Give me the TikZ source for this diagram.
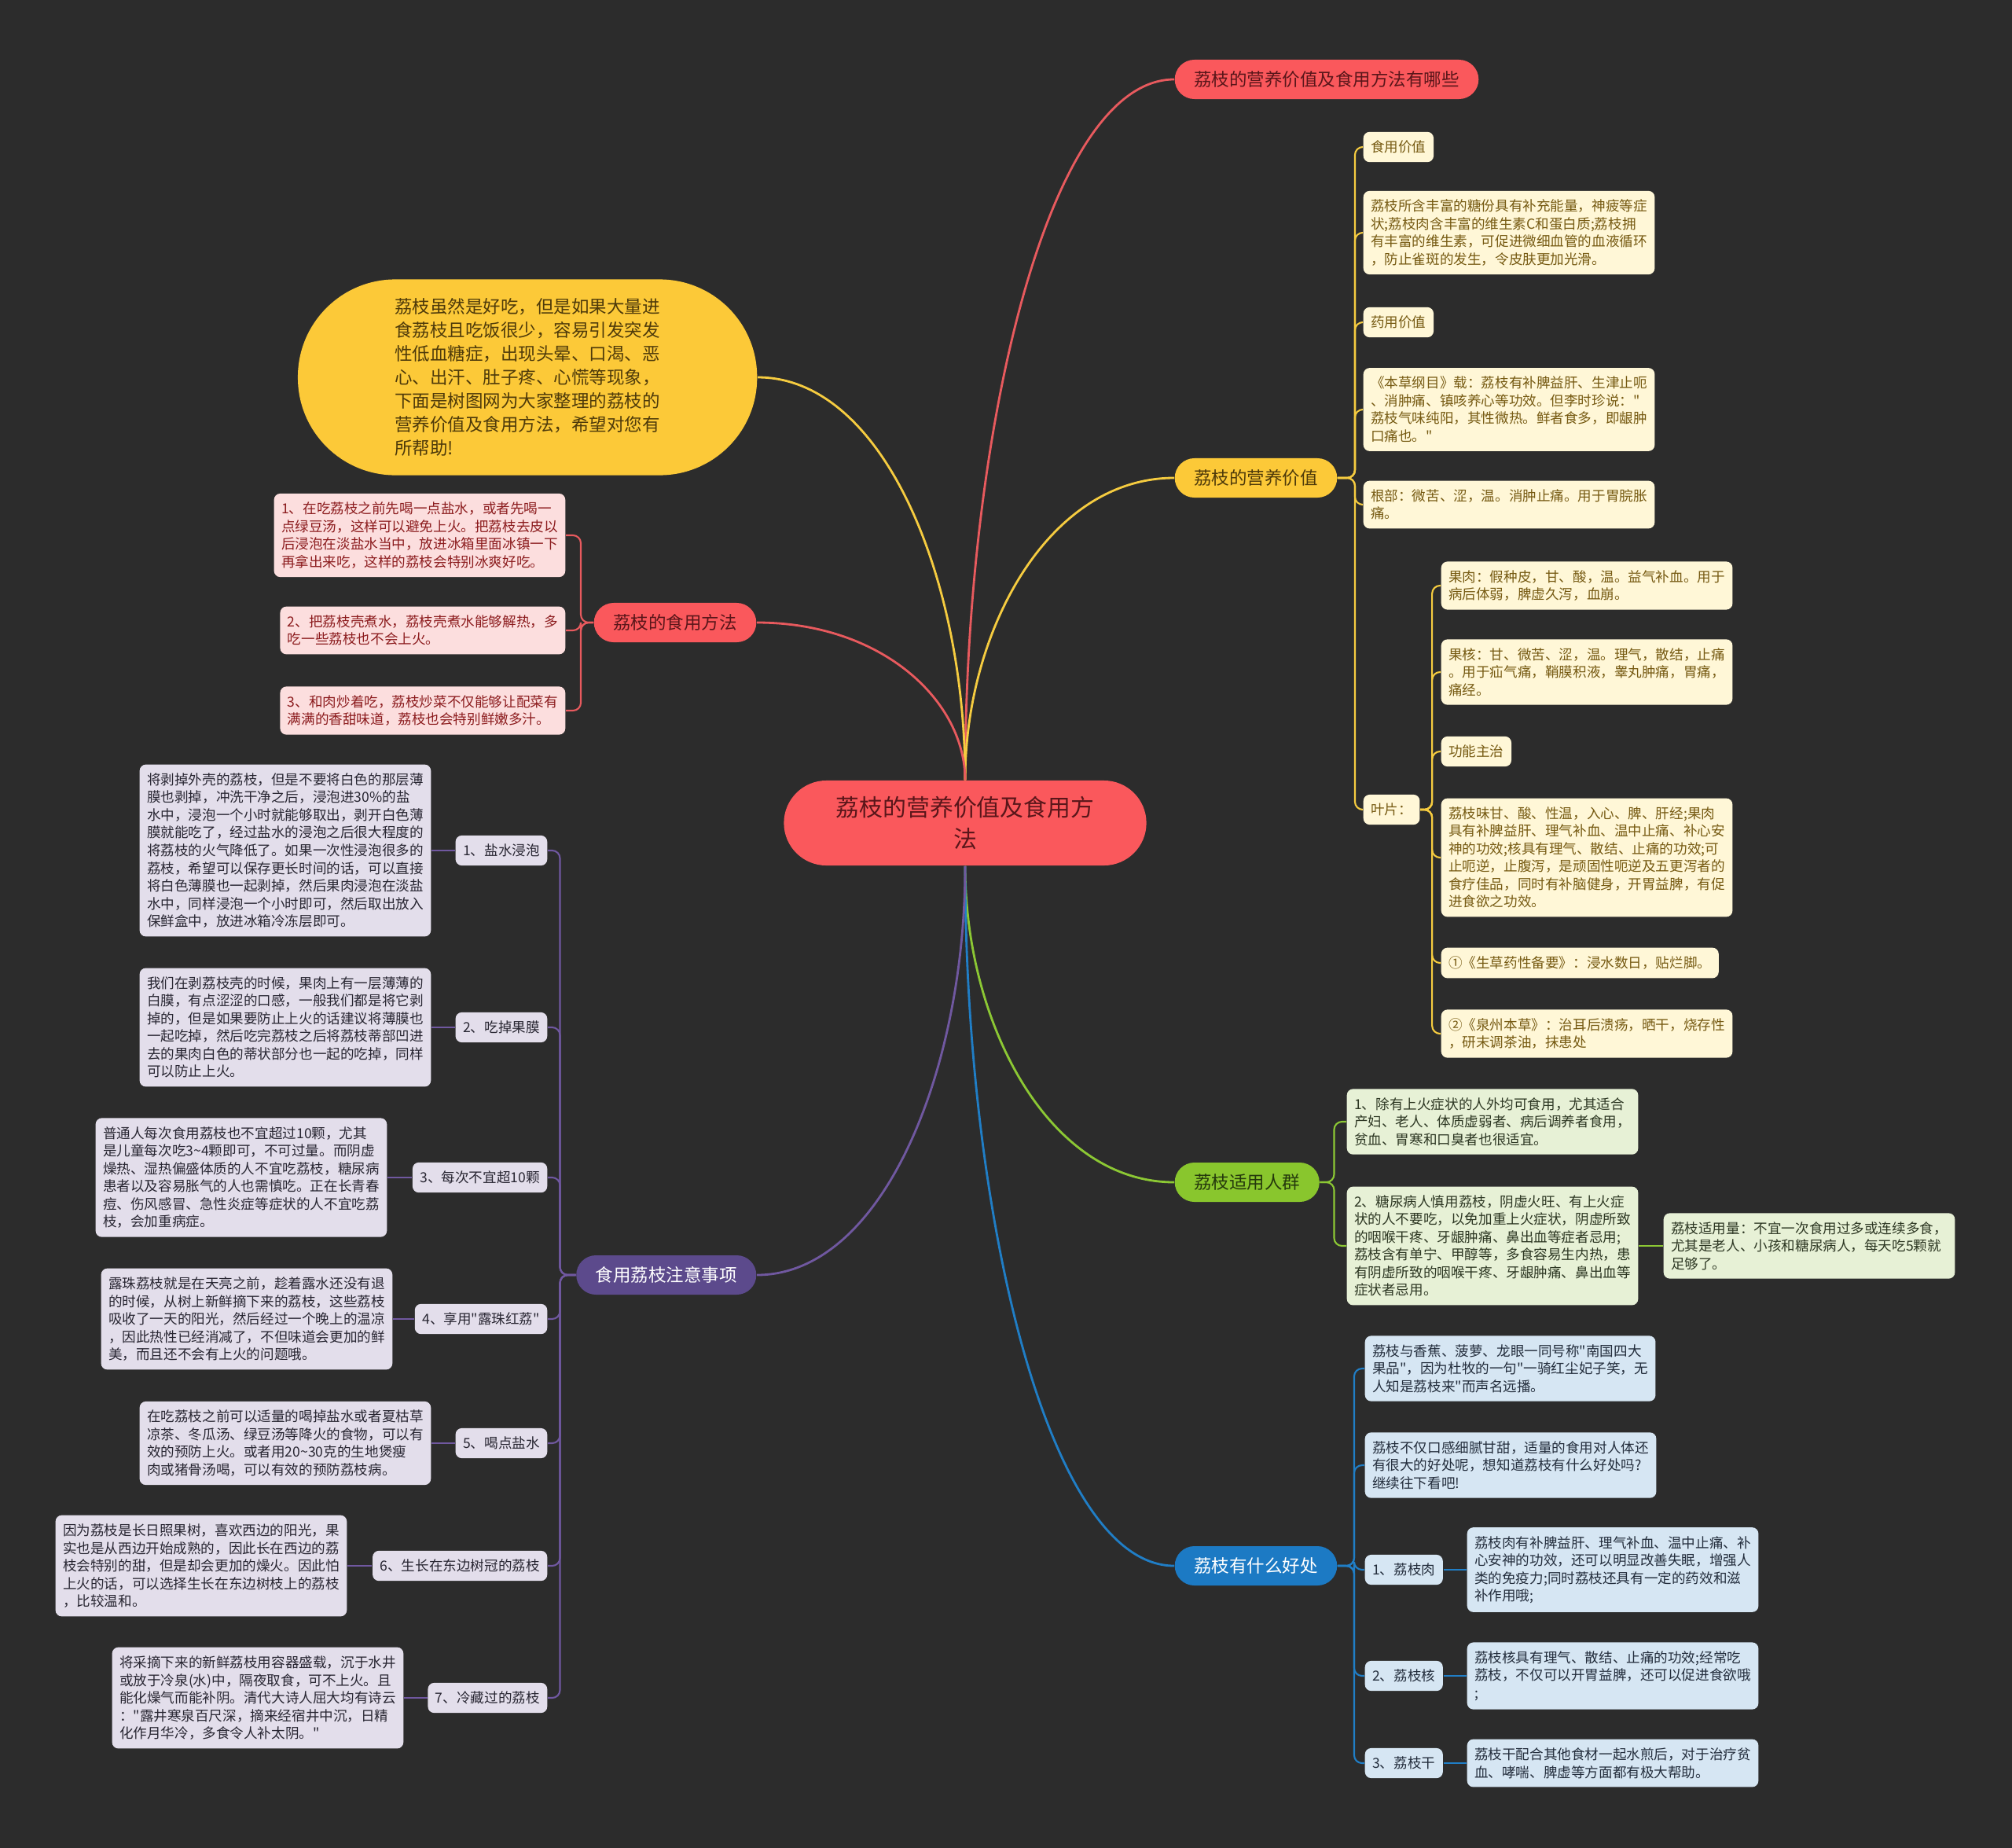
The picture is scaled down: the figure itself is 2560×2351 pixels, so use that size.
\documentclass[tikz,border=0pt]{standalone}
\usepackage{fontspec}
\setmainfont{Noto Sans CJK SC}

\definecolor{bgDark}{RGB}{44,44,44}
\definecolor{cRed}{RGB}{250,88,92}
\definecolor{cYel}{RGB}{252,201,56}
\definecolor{cGrn}{RGB}{137,198,45}
\definecolor{cBlu}{RGB}{28,122,196}
\definecolor{cPur}{RGB}{92,74,140}
\definecolor{lnRed}{RGB}{232,90,94}
\definecolor{lnYel}{RGB}{246,204,64}
\definecolor{lnGrn}{RGB}{140,200,52}
\definecolor{lnBlu}{RGB}{32,126,198}
\definecolor{lnPur}{RGB}{112,88,160}
\definecolor{fCream}{RGB}{255,247,215}
\definecolor{tCream}{RGB}{118,90,18}
\definecolor{fPink}{RGB}{252,222,222}
\definecolor{tPink}{RGB}{140,28,30}
\definecolor{fLime}{RGB}{231,241,214}
\definecolor{tLime}{RGB}{45,55,35}
\definecolor{fSky}{RGB}{214,230,243}
\definecolor{tSky}{RGB}{35,45,60}
\definecolor{fLilac}{RGB}{227,222,235}
\definecolor{tLilac}{RGB}{40,38,50}
\definecolor{tDarkRed}{RGB}{90,22,26}
\definecolor{tDarkYel}{RGB}{78,58,10}
\definecolor{tDarkGrn}{RGB}{36,56,12}

\newcommand{\dq}{\textquotedbl{}}

\begin{document}
\begin{tikzpicture}[x=0.01cm, y=-0.01cm,
    nodeRoot/.style={rectangle, rounded corners=0.54cm, fill=cRed, text=tDarkRed, font=\fontsize{8.5}{11.2}\selectfont, align=center, minimum width=4.61cm, minimum height=1.08cm, inner sep=0pt},
    nodeMain/.style={rectangle, rounded corners=0.25cm, minimum height=0.5cm, inner xsep=0.245cm, inner ysep=0pt, font=\fontsize{6.4}{8}\selectfont},
    nodeRed/.style={nodeMain, fill=cRed, text=tDarkRed},
    nodeYel/.style={nodeMain, fill=cYel, text=tDarkYel},
    nodeGrn/.style={nodeMain, fill=cGrn, text=tDarkGrn},
    nodeBlu/.style={nodeMain, fill=cBlu, text=white},
    nodePur/.style={nodeMain, fill=cPur, text=white},
    nodeIntro/.style={rectangle, rounded corners=1.24cm, fill=cYel, text=tDarkYel, font=\fontsize{6.4}{8.5}\selectfont, align=left, minimum width=5.84cm, minimum height=2.49cm, inner sep=0pt},
    leaf/.style={rectangle, rounded corners=0.08cm, font=\fontsize{5}{6.4}\selectfont, align=left, inner xsep=0.095cm, inner ysep=0.11cm},
    leafYel/.style={leaf, fill=fCream, text=tCream},
    leafRed/.style={leaf, fill=fPink, text=tPink},
    leafGrn/.style={leaf, fill=fLime, text=tLime},
    leafBlu/.style={leaf, fill=fSky, text=tSky},
    leafPur/.style={leaf, fill=fLilac, text=tLilac},
    lineMain/.style={line width=0.8pt},
    lineSub/.style={line width=0.6pt, rounded corners=0.1cm}]

    \useasboundingbox (0,0) rectangle (2560,2351);
    \fill[bgDark] (0,0) rectangle (2560,2351);

    % Root and main topics
    \node[nodeRoot] (root) at (1228,1047) {荔枝的营养价值及食用方\\法};
    \node[nodeRed, anchor=west] (nA) at (1494,101) {荔枝的营养价值及食用方法有哪些};
    \node[nodeYel, anchor=west] (nB) at (1494,608) {荔枝的营养价值};
    \node[nodeGrn, anchor=west] (nC) at (1494,1504) {荔枝适用人群};
    \node[nodeBlu, anchor=west] (nD) at (1494,1992) {荔枝有什么好处};
    \node[nodeRed, anchor=east] (nE) at (963,792) {荔枝的食用方法};
    \node[nodePur, anchor=east] (nF) at (963,1622) {食用荔枝注意事项};
    \node[nodeIntro, anchor=east] (intro) at (964,480) {荔枝虽然是好吃，但是如果大量进\\食荔枝且吃饭很少，容易引发突发\\性低血糖症，出现头晕、口渴、恶\\心、出汗、肚子疼、心慌等现象，\\下面是树图网为大家整理的荔枝的\\营养价值及食用方法，希望对您有\\所帮助!};

    % Nutrition value (yellow)
    \node[leafYel, anchor=west] (y1) at (1734,187) {食用价值};
    \node[leafYel, anchor=west] (y2) at (1734,296) {荔枝所含丰富的糖份具有补充能量，神疲等症\\状;荔枝肉含丰富的维生素C和蛋白质;荔枝拥\\有丰富的维生素，可促进微细血管的血液循环\\，防止雀斑的发生，令皮肤更加光滑。};
    \node[leafYel, anchor=west] (y3) at (1734,410) {药用价值};
    \node[leafYel, anchor=west] (y4) at (1734,521) {《本草纲目》载：荔枝有补脾益肝、生津止呃\\、消肿痛、镇咳养心等功效。但李时珍说：\dq\\荔枝气味纯阳，其性微热。鲜者食多，即龈肿\\口痛也。\dq};
    \node[leafYel, anchor=west] (y5) at (1734,642) {根部：微苦、涩，温。消肿止痛。用于胃脘胀\\痛。};
    \node[leafYel, anchor=west] (y6) at (1734,1030) {叶片：};

    % Leaf items
    \node[leafYel, anchor=west] (lf1) at (1833,745) {果肉：假种皮，甘、酸，温。益气补血。用于\\病后体弱，脾虚久泻，血崩。};
    \node[leafYel, anchor=west] (lf2) at (1833,855) {果核：甘、微苦、涩，温。理气，散结，止痛\\。用于疝气痛，鞘膜积液，睾丸肿痛，胃痛，\\痛经。};
    \node[leafYel, anchor=west] (lf3) at (1833,956) {功能主治};
    \node[leafYel, anchor=west] (lf4) at (1833,1091) {荔枝味甘、酸、性温，入心、脾、肝经;果肉\\具有补脾益肝、理气补血、温中止痛、补心安\\神的功效;核具有理气、散结、止痛的功效;可\\止呃逆，止腹泻，是顽固性呃逆及五更泻者的\\食疗佳品，同时有补脑健身，开胃益脾，有促\\进食欲之功效。};
    \node[leafYel, anchor=west] (lf5) at (1833,1225) {①《生草药性备要》：浸水数日，贴烂脚。};
    \node[leafYel, anchor=west] (lf6) at (1833,1315) {②《泉州本草》：治耳后溃疡，晒干，烧存性\\，研末调茶油，抹患处};

    % Suitable people (green)
    \node[leafGrn, anchor=west] (g1) at (1713,1427) {1、除有上火症状的人外均可食用，尤其适合\\产妇、老人、体质虚弱者、病后调养者食用，\\贫血、胃寒和口臭者也很适宜。};
    \node[leafGrn, anchor=west] (g2) at (1713,1585) {2、糖尿病人慎用荔枝，阴虚火旺、有上火症\\状的人不要吃，以免加重上火症状，阴虚所致\\的咽喉干疼、牙龈肿痛、鼻出血等症者忌用;\\荔枝含有单宁、甲醇等，多食容易生内热，患\\有阴虚所致的咽喉干疼、牙龈肿痛、鼻出血等\\症状者忌用。};
    \node[leafGrn, anchor=west] (g3) at (2116,1585) {荔枝适用量：不宜一次食用过多或连续多食，\\尤其是老人、小孩和糖尿病人，每天吃5颗就\\足够了。};

    % Benefits (blue)
    \node[leafBlu, anchor=west] (b1) at (1736,1741) {荔枝与香蕉、菠萝、龙眼一同号称\dq 南国四大\\果品\dq，因为杜牧的一句\dq 一骑红尘妃子笑，无\\人知是荔枝来\dq 而声名远播。};
    \node[leafBlu, anchor=west] (b2) at (1736,1864) {荔枝不仅口感细腻甘甜，适量的食用对人体还\\有很大的好处呢，想知道荔枝有什么好处吗?\\继续往下看吧!};
    \node[leafBlu, anchor=west] (bl1) at (1736,1997) {1、荔枝肉};
    \node[leafBlu, anchor=west] (bt1) at (1866,1997) {荔枝肉有补脾益肝、理气补血、温中止痛、补\\心安神的功效，还可以明显改善失眠，增强人\\类的免疫力;同时荔枝还具有一定的药效和滋\\补作用哦;};
    \node[leafBlu, anchor=west] (bl2) at (1736,2132) {2、荔枝核};
    \node[leafBlu, anchor=west] (bt2) at (1866,2132) {荔枝核具有理气、散结、止痛的功效;经常吃\\荔枝，不仅可以开胃益脾，还可以促进食欲哦\\;};
    \node[leafBlu, anchor=west] (bl3) at (1736,2243) {3、荔枝干};
    \node[leafBlu, anchor=west] (bt3) at (1866,2243) {荔枝干配合其他食材一起水煎后，对于治疗贫\\血、哮喘、脾虚等方面都有极大帮助。};

    % Eating methods (red)
    \node[leafRed, anchor=east] (r1) at (720,681) {1、在吃荔枝之前先喝一点盐水，或者先喝一\\点绿豆汤，这样可以避免上火。把荔枝去皮以\\后浸泡在淡盐水当中，放进冰箱里面冰镇一下\\再拿出来吃，这样的荔枝会特别冰爽好吃。};
    \node[leafRed, anchor=east] (r2) at (720,802) {2、把荔枝壳煮水，荔枝壳煮水能够解热，多\\吃一些荔枝也不会上火。};
    \node[leafRed, anchor=east] (r3) at (720,904) {3、和肉炒着吃，荔枝炒菜不仅能够让配菜有\\满满的香甜味道，荔枝也会特别鲜嫩多汁。};

    % Cautions (purple)
    \node[leafPur, anchor=east] (p1) at (697,1082) {1、盐水浸泡};
    \node[leafPur, anchor=east] (pt1) at (549,1082) {将剥掉外壳的荔枝，但是不要将白色的那层薄\\膜也剥掉，冲洗干净之后，浸泡进30\%的盐\\水中，浸泡一个小时就能够取出，剥开白色薄\\膜就能吃了，经过盐水的浸泡之后很大程度的\\将荔枝的火气降低了。如果一次性浸泡很多的\\荔枝，希望可以保存更长时间的话，可以直接\\将白色薄膜也一起剥掉，然后果肉浸泡在淡盐\\水中，同样浸泡一个小时即可，然后取出放入\\保鲜盒中，放进冰箱冷冻层即可。};
    \node[leafPur, anchor=east] (p2) at (697,1307) {2、吃掉果膜};
    \node[leafPur, anchor=east] (pt2) at (549,1307) {我们在剥荔枝壳的时候，果肉上有一层薄薄的\\白膜，有点涩涩的口感，一般我们都是将它剥\\掉的，但是如果要防止上火的话建议将薄膜也\\一起吃掉，然后吃完荔枝之后将荔枝蒂部凹进\\去的果肉白色的蒂状部分也一起的吃掉，同样\\可以防止上火。};
    \node[leafPur, anchor=east] (p3) at (697,1498) {3、每次不宜超10颗};
    \node[leafPur, anchor=east] (pt3) at (493,1498) {普通人每次食用荔枝也不宜超过10颗，尤其\\是儿童每次吃3\textasciitilde{}4颗即可，不可过量。而阴虚\\燥热、湿热偏盛体质的人不宜吃荔枝，糖尿病\\患者以及容易胀气的人也需慎吃。正在长青春\\痘、伤风感冒、急性炎症等症状的人不宜吃荔\\枝，会加重病症。};
    \node[leafPur, anchor=east] (p4) at (697,1678) {4、享用\dq 露珠红荔\dq};
    \node[leafPur, anchor=east] (pt4) at (500,1678) {露珠荔枝就是在天亮之前，趁着露水还没有退\\的时候，从树上新鲜摘下来的荔枝，这些荔枝\\吸收了一天的阳光，然后经过一个晚上的温凉\\，因此热性已经消减了，不但味道会更加的鲜\\美，而且还不会有上火的问题哦。};
    \node[leafPur, anchor=east] (p5) at (697,1836) {5、喝点盐水};
    \node[leafPur, anchor=east] (pt5) at (549,1836) {在吃荔枝之前可以适量的喝掉盐水或者夏枯草\\凉茶、冬瓜汤、绿豆汤等降火的食物，可以有\\效的预防上火。或者用20\textasciitilde{}30克的生地煲瘦\\肉或猪骨汤喝，可以有效的预防荔枝病。};
    \node[leafPur, anchor=east] (p6) at (697,1992) {6、生长在东边树冠的荔枝};
    \node[leafPur, anchor=east] (pt6) at (442,1992) {因为荔枝是长日照果树，喜欢西边的阳光，果\\实也是从西边开始成熟的，因此长在西边的荔\\枝会特别的甜，但是却会更加的燥火。因此怕\\上火的话，可以选择生长在东边树枝上的荔枝\\，比较温和。};
    \node[leafPur, anchor=east] (p7) at (697,2160) {7、冷藏过的荔枝};
    \node[leafPur, anchor=east] (pt7) at (514,2160) {将采摘下来的新鲜荔枝用容器盛载，沉于水井\\或放于冷泉(水)中，隔夜取食，可不上火。且\\能化燥气而能补阴。清代大诗人屈大均有诗云\\：\dq 露井寒泉百尺深，摘来经宿井中沉，日精\\化作月华冷，多食令人补太阴。\dq};

    % Main branches from the root
    \draw[lineMain, lnRed] (root.north) .. controls +(0,-446) and +(-160,0) .. (nA.west);
    \draw[lineMain, lnYel] (root.north) .. controls +(0,-190) and +(-160,0) .. (nB.west);
    \draw[lineMain, lnYel] (root.north) .. controls +(0,-256) and +(160,0) .. (intro.east);
    \draw[lineMain, lnRed] (root.north) .. controls +(0,-100) and +(160,0) .. (nE.east);
    \draw[lineMain, lnGrn] (root.south) .. controls +(0,200) and +(-160,0) .. (nC.west);
    \draw[lineMain, lnBlu] (root.south) .. controls +(0,445) and +(-160,0) .. (nD.west);
    \draw[lineMain, lnPur] (root.south) .. controls +(0,260) and +(160,0) .. (nF.east);

    % Yellow brackets
    \draw[lineSub, lnYel] (nB.east) -- ++(22,0) |- (y1.west);
    \draw[lineSub, lnYel] (nB.east) -- ++(22,0) |- (y2.west);
    \draw[lineSub, lnYel] (nB.east) -- ++(22,0) |- (y3.west);
    \draw[lineSub, lnYel] (nB.east) -- ++(22,0) |- (y4.west);
    \draw[lineSub, lnYel] (nB.east) -- ++(22,0) |- (y5.west);
    \draw[lineSub, lnYel] (nB.east) -- ++(22,0) |- (y6.west);
    \draw[lineSub, lnYel] (y6.east) -- ++(15,0) |- (lf1.west);
    \draw[lineSub, lnYel] (y6.east) -- ++(15,0) |- (lf2.west);
    \draw[lineSub, lnYel] (y6.east) -- ++(15,0) |- (lf3.west);
    \draw[lineSub, lnYel] (y6.east) -- ++(15,0) |- (lf4.west);
    \draw[lineSub, lnYel] (y6.east) -- ++(15,0) |- (lf5.west);
    \draw[lineSub, lnYel] (y6.east) -- ++(15,0) |- (lf6.west);

    % Green brackets
    \draw[lineSub, lnGrn] (nC.east) -- ++(18,0) |- (g1.west);
    \draw[lineSub, lnGrn] (nC.east) -- ++(18,0) |- (g2.west);
    \draw[lineSub, lnGrn] (g2.east) -- (g3.west);

    % Blue brackets
    \draw[lineSub, lnBlu] (nD.east) -- ++(21,0) |- (b1.west);
    \draw[lineSub, lnBlu] (nD.east) -- ++(21,0) |- (b2.west);
    \draw[lineSub, lnBlu] (nD.east) -- ++(21,0) |- (bl1.west);
    \draw[lineSub, lnBlu] (nD.east) -- ++(21,0) |- (bl2.west);
    \draw[lineSub, lnBlu] (nD.east) -- ++(21,0) |- (bl3.west);
    \draw[lineSub, lnBlu] (bl1.east) -- (bt1.west);
    \draw[lineSub, lnBlu] (bl2.east) -- (bt2.west);
    \draw[lineSub, lnBlu] (bl3.east) -- (bt3.west);

    % Red brackets
    \draw[lineSub, lnRed] (nE.west) -- ++(-16,0) |- (r1.east);
    \draw[lineSub, lnRed] (nE.west) -- ++(-16,0) |- (r2.east);
    \draw[lineSub, lnRed] (nE.west) -- ++(-16,0) |- (r3.east);

    % Purple brackets
    \draw[lineSub, lnPur] (nF.west) -- ++(-20,0) |- (p1.east);
    \draw[lineSub, lnPur] (nF.west) -- ++(-20,0) |- (p2.east);
    \draw[lineSub, lnPur] (nF.west) -- ++(-20,0) |- (p3.east);
    \draw[lineSub, lnPur] (nF.west) -- ++(-20,0) |- (p4.east);
    \draw[lineSub, lnPur] (nF.west) -- ++(-20,0) |- (p5.east);
    \draw[lineSub, lnPur] (nF.west) -- ++(-20,0) |- (p6.east);
    \draw[lineSub, lnPur] (nF.west) -- ++(-20,0) |- (p7.east);
    \draw[lineSub, lnPur] (p1.west) -- (pt1.east);
    \draw[lineSub, lnPur] (p2.west) -- (pt2.east);
    \draw[lineSub, lnPur] (p3.west) -- (pt3.east);
    \draw[lineSub, lnPur] (p4.west) -- (pt4.east);
    \draw[lineSub, lnPur] (p5.west) -- (pt5.east);
    \draw[lineSub, lnPur] (p6.west) -- (pt6.east);
    \draw[lineSub, lnPur] (p7.west) -- (pt7.east);

\end{tikzpicture}
\end{document}
